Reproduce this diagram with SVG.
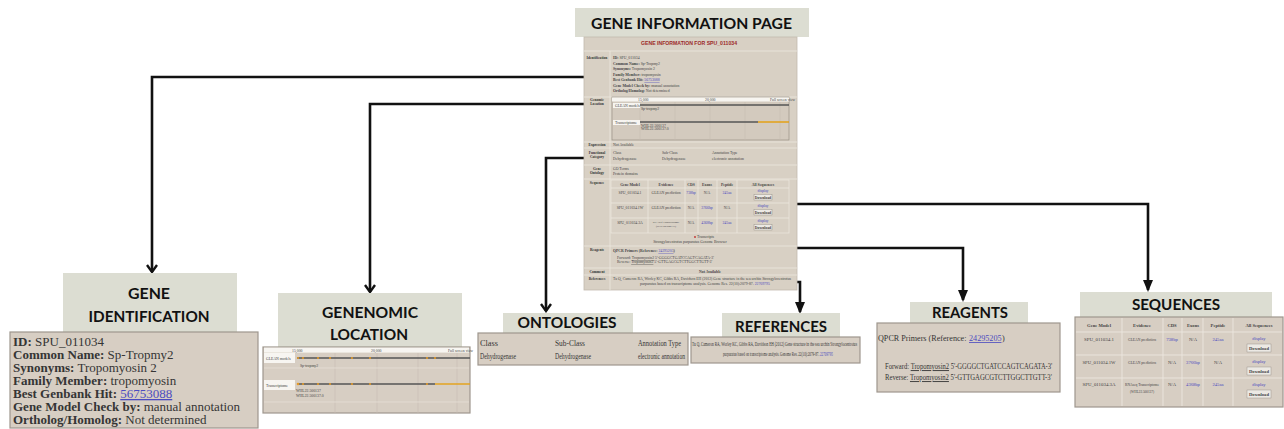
<svg xmlns="http://www.w3.org/2000/svg" width="1284" height="429" viewBox="0 0 1284 429">
<style>
.hbox{fill:#dcddd2}
.hdr{font-family:Lato,"Open Sans",sans-serif;font-weight:700;fill:#111;font-size:16px}
.panel{fill:#d7cec3;stroke:#9e978e;stroke-width:1.2}
.page{fill:#d8d0c4;stroke:#c2baae;stroke-width:0.8}
.sep{stroke:#eee9e0;stroke-width:0.8}
.grid{stroke:#c6bdb1;stroke-width:0.6}
.conn{fill:none;stroke:#111;stroke-width:2.6}
.ser{font-family:"Liberation Serif",serif;fill:#353535}
.b{font-weight:700}
.lk{fill:#4b4bc0}
.u{text-decoration:underline}
.t{font-family:"Liberation Serif",serif;fill:#444;font-size:3.8px}
.tl{font-family:"Liberation Serif",serif;fill:#333;font-size:3.6px;font-weight:700;text-anchor:middle}
.ts{font-family:"Liberation Serif",serif;fill:#444;font-size:4.6px}
.mid{text-anchor:middle}
.white{fill:#f7f5f1}
.btn{fill:#ece9e4;stroke:#8d877f;stroke-width:0.4}
.dark{stroke:#555;stroke-width:1.4}
.org{stroke:#e3a321;stroke-width:1.6}
.dot{fill:#e39a2a}
</style>
<defs>
<marker id="tri" markerUnits="userSpaceOnUse" viewBox="0 0 12 10" markerWidth="12" markerHeight="10" refX="10" refY="5" orient="auto">
<path d="M0,0 L12,5 L0,10 z" fill="#111"/>
</marker>
<marker id="chev" markerUnits="userSpaceOnUse" viewBox="0 0 10 12" markerWidth="10" markerHeight="12" refX="8" refY="6" orient="auto">
<path d="M1,1 L8,6 L1,11" fill="none" stroke="#111" stroke-width="2.4"/>
</marker>
</defs>

<g id="connectors">
<path class="conn" d="M585,77 H152 V272" marker-end="url(#chev)"/>
<path class="conn" d="M585,104 H370 V292" marker-end="url(#chev)"/>
<path class="conn" d="M585,158 H546 V311" marker-end="url(#chev)"/>
<path class="conn" d="M796,282 H800 V312" marker-end="url(#tri)"/>
<path class="conn" d="M796,248 H963 V300" marker-end="url(#tri)"/>
<path class="conn" d="M796,204 H1148 V290" marker-end="url(#tri)"/>
</g>

<g id="gene-information-page">
<rect class="hbox" x="575" y="8" width="234" height="29"/>
<text class="hdr" x="591" y="29" textLength="201" lengthAdjust="spacingAndGlyphs" font-size="17">GENE INFORMATION PAGE</text>
<rect class="page" x="584" y="37" width="213" height="253"/>
<text x="689" y="45" font-family="Liberation Sans,sans-serif" font-size="5" font-weight="700" fill="#9c2a2a" text-anchor="middle" textLength="96" lengthAdjust="spacingAndGlyphs">GENE INFORMATION FOR SPU_011034</text>
<g class="sep">
<line x1="584" y1="51" x2="797" y2="51"/>
<line x1="584" y1="97" x2="797" y2="97"/>
<line x1="584" y1="142" x2="797" y2="142"/>
<line x1="584" y1="148" x2="797" y2="148"/>
<line x1="584" y1="165" x2="797" y2="165"/>
<line x1="584" y1="179" x2="797" y2="179"/>
<line x1="584" y1="246" x2="797" y2="246"/>
<line x1="584" y1="268" x2="797" y2="268"/>
<line x1="584" y1="275" x2="797" y2="275"/>
<line x1="610" y1="51" x2="610" y2="290"/>
</g>
<text class="tl" x="597" y="59">Identification</text>
<text class="tl" x="597" y="101">Genomic</text>
<text class="tl" x="597" y="105">Location</text>
<text class="tl" x="597" y="146">Expression</text>
<text class="tl" x="597" y="154">Functional</text>
<text class="tl" x="597" y="158">Category</text>
<text class="tl" x="597" y="170">Gene</text>
<text class="tl" x="597" y="174">Ontology</text>
<text class="tl" x="597" y="184">Sequence</text>
<text class="tl" x="597" y="251">Reagents</text>
<text class="tl" x="597" y="273">Comment</text>
<text class="tl" x="597" y="280">References</text>
<text class="t" x="613" y="59"><tspan class="b">ID:</tspan> SPU_011034</text>
<text class="t" x="613" y="64.5"><tspan class="b">Common Name:</tspan> Sp-Tropmy2</text>
<text class="t" x="613" y="70"><tspan class="b">Synonyms:</tspan> Tropomyosin 2</text>
<text class="t" x="613" y="75.5"><tspan class="b">Family Member:</tspan> tropomyosin</text>
<text class="t" x="613" y="81"><tspan class="b">Best Genbank Hit:</tspan> <tspan class="lk u">56753088</tspan></text>
<text class="t" x="613" y="86.5"><tspan class="b">Gene Model Check by:</tspan> manual annotation</text>
<text class="t" x="613" y="92"><tspan class="b">Ortholog/Homolog:</tspan> Not determined</text>
<rect x="612" y="97" width="177" height="43" fill="#d3cabe" stroke="#8f887e" stroke-width="0.6"/>
<rect class="white" x="612" y="97.5" width="177" height="4"/>
<text class="t" x="638" y="100.6" font-size="3">15,000</text>
<text class="t" x="705" y="100.6" font-size="3">20,000</text>
<text class="t lk" x="770" y="100.6" font-size="3">Full screen view</text>
<g class="grid">
<line x1="640" y1="102" x2="640" y2="140"/>
<line x1="675" y1="102" x2="675" y2="140"/>
<line x1="710" y1="102" x2="710" y2="140"/>
<line x1="745" y1="102" x2="745" y2="140"/>
<line x1="780" y1="102" x2="780" y2="140"/>
</g>
<rect class="white" x="613" y="103" width="27" height="5"/>
<text class="t" x="615" y="106.5" font-size="2.8">GLEAN models</text>
<line class="dark" x1="640" y1="105" x2="789" y2="105" stroke-width="0.8"/>
<text class="t" x="641" y="110" font-size="3">Sp-tropmy2</text>
<rect class="white" x="613" y="120" width="27" height="5"/>
<text class="t" x="615" y="123.5" font-size="2.8">Transcriptome</text>
<line class="dark" x1="640" y1="122" x2="758" y2="122" stroke-width="0.8"/>
<line class="org" x1="758" y1="122" x2="789" y2="122" stroke-width="1"/>
<text class="t" x="641" y="127" font-size="3">WHL22.500137</text>
<text class="t lk" x="641" y="130" font-size="3">WHL22.500137.0</text>
<text class="t" x="613" y="146">Not Available</text>
<text class="t" x="613" y="154">Class</text>
<text class="t" x="662" y="154">Sub-Class</text>
<text class="t" x="712" y="154">Annotation Type</text>
<text class="t" x="613" y="160">Dehydrogenase</text>
<text class="t" x="662" y="160">Dehydrogenase</text>
<text class="t" x="712" y="160">electronic annotation</text>
<text class="t lk" x="613" y="170">GO Terms</text>
<text class="t lk" x="613" y="175">Protein domains</text>
<rect x="611" y="180" width="178" height="53" fill="none" stroke="#eee9e0" stroke-width="0.7"/>
<g class="sep">
<line x1="611" y1="188" x2="789" y2="188"/>
<line x1="611" y1="203" x2="789" y2="203"/>
<line x1="611" y1="218" x2="789" y2="218"/>
<line x1="648" y1="180" x2="648" y2="233"/>
<line x1="685" y1="180" x2="685" y2="233"/>
<line x1="698" y1="180" x2="698" y2="233"/>
<line x1="717" y1="180" x2="717" y2="233"/>
<line x1="737" y1="180" x2="737" y2="233"/>
</g>
<g class="t mid" font-size="3">
<text x="630" y="185.5" class="b">Gene Model</text>
<text x="666" y="185.5" class="b">Evidence</text>
<text x="691" y="185.5" class="b">CDS</text>
<text x="707" y="185.5" class="b">Exons</text>
<text x="727" y="185.5" class="b">Peptide</text>
<text x="763" y="185.5" class="b">All Sequences</text>
<text x="630" y="194">SPU_011034.1</text>
<text x="666" y="194">GLEAN prediction</text>
<text x="691" y="194" class="lk">738bp</text>
<text x="707" y="194">N/A</text>
<text x="727" y="194" class="lk">245aa</text>
<text x="763" y="192" class="lk">display</text>
<text x="630" y="209">SPU_011034.1W</text>
<text x="666" y="209">GLEAN prediction</text>
<text x="691" y="209">N/A</text>
<text x="707" y="209" class="lk">3766bp</text>
<text x="727" y="209">N/A</text>
<text x="763" y="207" class="lk">display</text>
<text x="630" y="224">SPU_011034.3A</text>
<text x="666" y="223" font-size="2.8">RNAseq Transcriptome</text>
<text x="666" y="227" font-size="2.8">(WHL22.500137)</text>
<text x="691" y="224">N/A</text>
<text x="707" y="224" class="lk">4368bp</text>
<text x="727" y="224" class="lk">245aa</text>
<text x="763" y="222" class="lk">display</text>
</g>
<rect class="btn" x="754" y="194.5" width="18" height="5.5"/>
<rect class="btn" x="754" y="209.5" width="18" height="5.5"/>
<rect class="btn" x="754" y="224.5" width="18" height="5.5"/>
<g class="t mid b" font-size="3.2">
<text x="763" y="198.5">Download</text>
<text x="763" y="213.5">Download</text>
<text x="763" y="228.5">Download</text>
</g>
<circle cx="695" cy="237" r="0.9" fill="#c03030"/>
<text class="t lk" x="697" y="238" font-size="3.2">Transcripts</text>
<text class="t lk mid" x="690" y="243" font-size="3.2">Strongylocentrotus purpuratus Genome Browser</text>
<text class="t" x="613" y="252"><tspan class="b">QPCR Primers (Reference: </tspan><tspan class="lk u">24295205</tspan><tspan class="b">)</tspan></text>
<text class="t" x="617" y="259" font-size="3.4">Forward: <tspan class="u">Tropomyosin2</tspan> 5'-GGGGCTGATCCAGTCAGATA-3'</text>
<text class="t" x="617" y="263" font-size="3.4">Reverse: <tspan class="u">Tropomyosin2</tspan> 5'-GTTGAGCGTCTTGGCTTGTT-3'</text>
<text class="t mid b" x="710" y="273">Not Available</text>
<text class="t" x="613" y="280" font-size="3.3" textLength="178" lengthAdjust="spacingAndGlyphs">Tu Q, Cameron RA, Worley KC, Gibbs RA, Davidson EH (2012) Gene structure in the sea urchin Strongylocentrotus</text>
<text class="t" x="640" y="285" font-size="3.3">purpuratus based on transcriptome analysis. Genome Res. 22(10):2079-87. <tspan class="lk">22709795</tspan></text>
</g>

<g id="gene-identification">
<rect class="hbox" x="63" y="273" width="174" height="59"/>
<text class="hdr" x="149" y="299" text-anchor="middle" textLength="42" lengthAdjust="spacingAndGlyphs" font-size="17">GENE</text>
<text class="hdr" x="149" y="322" text-anchor="middle" textLength="121" lengthAdjust="spacingAndGlyphs" font-size="17">IDENTIFICATION</text>
<rect class="panel" x="10" y="332" width="248" height="96"/>
<g class="ser" font-size="13">
<text x="13" y="346"><tspan class="b">ID:</tspan> SPU_011034</text>
<text x="13" y="359"><tspan class="b">Common Name:</tspan> Sp-Tropmy2</text>
<text x="13" y="372"><tspan class="b">Synonyms:</tspan> Tropomyosin 2</text>
<text x="13" y="385"><tspan class="b">Family Member:</tspan> tropomyosin</text>
<text x="13" y="398"><tspan class="b">Best Genbank Hit:</tspan> <tspan class="lk u">56753088</tspan></text>
<text x="13" y="411"><tspan class="b">Gene Model Check by:</tspan> manual annotation</text>
<text x="13" y="424"><tspan class="b">Ortholog/Homolog:</tspan>  Not determined</text>
</g>
</g>

<g id="genomic-location">
<rect class="hbox" x="278" y="293" width="184" height="54"/>
<text class="hdr" x="370" y="318" text-anchor="middle" textLength="96" lengthAdjust="spacingAndGlyphs">GENENOMIC</text>
<text class="hdr" x="369" y="340" text-anchor="middle" textLength="78" lengthAdjust="spacingAndGlyphs">LOCATION</text>
<rect class="panel" x="263" y="347" width="207" height="66"/>
<rect class="white" x="264" y="347.6" width="205" height="5"/>
<text class="t" x="292" y="351.5" font-size="4">15,000</text>
<text class="t" x="371" y="351.5" font-size="4">20,000</text>
<text class="t lk" x="448" y="351.5" font-size="3.6">Full screen view</text>
<g class="grid">
<line x1="335" y1="353" x2="335" y2="413"/>
<line x1="377" y1="353" x2="377" y2="413"/>
<line x1="418" y1="353" x2="418" y2="413"/>
<line x1="457" y1="353" x2="457" y2="413"/>
</g>
<line x1="264" y1="368" x2="469" y2="368" stroke="#e6e0d6" stroke-width="0.8"/>
<line x1="264" y1="402" x2="469" y2="402" stroke="#e6e0d6" stroke-width="0.8"/>
<rect class="white" x="264" y="353" width="31" height="10"/>
<text class="t" x="266" y="359.5" font-size="3.6">GLEAN models</text>
<line class="dark" x1="297" y1="358" x2="470" y2="358"/>
<g class="dot">
<circle cx="298" cy="358" r="1.1"/><circle cx="303" cy="358" r="1.1"/><circle cx="318" cy="358" r="1.1"/><circle cx="330" cy="358" r="1.1"/><circle cx="352" cy="358" r="1.1"/><circle cx="370" cy="358" r="1.1"/><circle cx="427" cy="358" r="1.1"/><circle cx="435" cy="358" r="1.1"/>
</g>
<text class="t" x="300" y="367" font-size="4">Sp-tropmy2</text>
<rect class="white" x="264" y="380" width="31" height="10"/>
<text class="t" x="266" y="386.5" font-size="3.6">Transcriptome</text>
<line class="dark" x1="297" y1="384" x2="435" y2="384"/>
<line class="org" x1="435" y1="384" x2="470" y2="384" stroke-width="2.2"/>
<g class="dot">
<circle cx="298" cy="384" r="1.3"/><circle cx="303" cy="384" r="1.1"/><circle cx="318" cy="384" r="1.1"/><circle cx="330" cy="384" r="1.1"/><circle cx="352" cy="384" r="1.1"/><circle cx="370" cy="384" r="1.1"/><circle cx="427" cy="384" r="1.1"/>
</g>
<text class="t" x="296" y="392" font-size="4">WHL22.500137</text>
<text class="t lk" x="296" y="396.5" font-size="4">WHL22.500137.0</text>
</g>

<g id="ontologies">
<rect class="hbox" x="503" y="313" width="130" height="20"/>
<text class="hdr" x="567" y="327.5" text-anchor="middle" textLength="99" lengthAdjust="spacingAndGlyphs" font-size="15">ONTOLOGIES</text>
<rect class="panel" x="478" y="333" width="210" height="32" stroke-width="0.6"/>
<g class="ser" font-size="7.5">
<text x="480" y="346" textLength="18" lengthAdjust="spacingAndGlyphs">Class</text>
<text x="555" y="346" textLength="30" lengthAdjust="spacingAndGlyphs">Sub-Class</text>
<text x="638" y="346" textLength="43" lengthAdjust="spacingAndGlyphs">Annotation Type</text>
<text x="480" y="359" textLength="36" lengthAdjust="spacingAndGlyphs">Dehydrogenase</text>
<text x="555" y="359" textLength="36" lengthAdjust="spacingAndGlyphs">Dehydrogenase</text>
<text x="638" y="359" textLength="47" lengthAdjust="spacingAndGlyphs">electronic annotation</text>
</g>
</g>

<g id="references">
<rect class="hbox" x="722" y="313" width="118" height="24"/>
<text class="hdr" x="781" y="332" text-anchor="middle" textLength="92" lengthAdjust="spacingAndGlyphs" font-size="15">REFERENCES</text>
<rect class="panel" x="691" y="337" width="169" height="26" stroke-width="0.6"/>
<text class="ser" x="692" y="345.5" font-size="5.2" textLength="165" lengthAdjust="spacingAndGlyphs">Tu Q, Cameron RA, Worley KC, Gibbs RA, Davidson EH (2012) Gene structure in the sea urchin Strongylocentrotus</text>
<g transform="translate(723,356) scale(0.62,1)">
<text class="ser" x="0" y="0" font-size="5.2">purpuratus based on transcriptome analysis. Genome Res. 22(10):2079-87. <tspan class="lk">22709795</tspan></text>
</g>
</g>

<g id="reagents">
<rect class="hbox" x="910" y="302" width="118" height="21"/>
<text class="hdr" x="970" y="318" text-anchor="middle" textLength="76" lengthAdjust="spacingAndGlyphs" font-size="15">REAGENTS</text>
<rect class="panel" x="877" y="323" width="183" height="69"/>
<text class="ser" x="878" y="341" font-size="8.15">QPCR Primers (Reference:</text>
<text class="ser lk u" x="969" y="341" font-size="8.15">24295205</text>
<text class="ser" x="1002" y="341" font-size="8.15">)</text>
<g transform="translate(885,369) scale(0.73,1)">
<text class="ser" x="0" y="0" font-size="9">Forward: <tspan class="u">Tropomyosin2</tspan> 5'-GGGGCTGATCCAGTCAGATA-3'</text>
</g>
<g transform="translate(885,380) scale(0.741,1)">
<text class="ser" x="0" y="0" font-size="9">Reverse: <tspan class="u">Tropomyosin2</tspan> 5'-GTTGAGCGTCTTGGCTTGTT-3'</text>
</g>
</g>

<g id="sequences">
<rect class="hbox" x="1080" y="292" width="192" height="25"/>
<text class="hdr" x="1176" y="310" text-anchor="middle" textLength="88" lengthAdjust="spacingAndGlyphs" font-size="15">SEQUENCES</text>
<rect class="panel" x="1075" y="317" width="208" height="90"/>
<g stroke="#ece7df" stroke-width="0.9">
<line x1="1076" y1="332" x2="1282" y2="332"/>
<line x1="1076" y1="355" x2="1282" y2="355"/>
<line x1="1076" y1="378" x2="1282" y2="378"/>
<line x1="1122" y1="318" x2="1122" y2="406"/>
<line x1="1163" y1="318" x2="1163" y2="406"/>
<line x1="1182" y1="318" x2="1182" y2="406"/>
<line x1="1203" y1="318" x2="1203" y2="406"/>
<line x1="1233" y1="318" x2="1233" y2="406"/>
</g>
<g class="ts mid">
<text x="1099" y="327" class="b">Gene Model</text>
<text x="1142" y="327" class="b">Evidence</text>
<text x="1172" y="327" class="b">CDS</text>
<text x="1193" y="327" class="b">Exons</text>
<text x="1218" y="327" class="b">Peptide</text>
<text x="1259" y="327" class="b">All Sequences</text>
<text x="1099" y="341" textLength="30" lengthAdjust="spacingAndGlyphs">SPU_011034.1</text>
<text x="1142" y="341" textLength="28" lengthAdjust="spacingAndGlyphs">GLEAN prediction</text>
<text x="1172" y="341" class="lk">738bp</text>
<text x="1193" y="341">N/A</text>
<text x="1218" y="341" class="lk">245aa</text>
<text x="1259" y="340" class="lk">display</text>
<text x="1099" y="364" textLength="33" lengthAdjust="spacingAndGlyphs">SPU_011034.1W</text>
<text x="1142" y="364" textLength="28" lengthAdjust="spacingAndGlyphs">GLEAN prediction</text>
<text x="1172" y="364">N/A</text>
<text x="1193" y="364" class="lk">3766bp</text>
<text x="1218" y="364">N/A</text>
<text x="1259" y="363" class="lk">display</text>
<text x="1099" y="386" textLength="33" lengthAdjust="spacingAndGlyphs">SPU_011034.3A</text>
<text x="1142" y="386" textLength="34" lengthAdjust="spacingAndGlyphs">RNAseq Transcriptome</text>
<text x="1142" y="393" textLength="24" lengthAdjust="spacingAndGlyphs">(WHL22.500137)</text>
<text x="1172" y="386">N/A</text>
<text x="1193" y="386" class="lk">4368bp</text>
<text x="1218" y="386" class="lk">245aa</text>
<text x="1259" y="386" class="lk">display</text>
</g>
<rect class="btn" x="1247" y="344" width="24" height="8"/>
<rect class="btn" x="1247" y="367" width="24" height="8"/>
<rect class="btn" x="1247" y="390" width="24" height="8"/>
<g class="ts mid b" font-size="4.6">
<text x="1259" y="349.8">Download</text>
<text x="1259" y="372.8">Download</text>
<text x="1259" y="395.8">Download</text>
</g>
</g>
</svg>
